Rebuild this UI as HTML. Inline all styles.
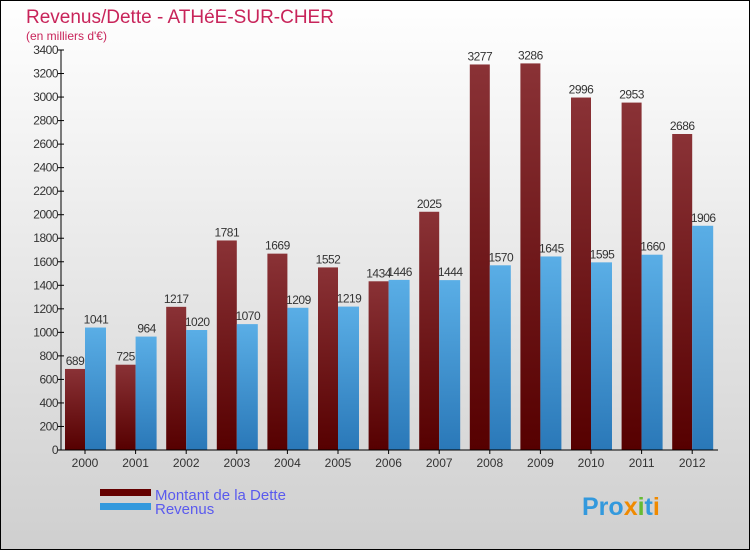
<!DOCTYPE html>
<html><head><meta charset="utf-8"><style>
body{margin:0}
#c{width:750px;height:550px;position:relative;font-family:"Liberation Sans",sans-serif}
</style></head><body>
<div id="c">
<svg id="s" width="750" height="550" xmlns="http://www.w3.org/2000/svg">
<defs>
<linearGradient id="bg" x1="0" y1="0" x2="0" y2="1"><stop offset="0" stop-color="#ffffff"/><stop offset="1" stop-color="#cfcfcf"/></linearGradient>
<linearGradient id="gd" x1="0" y1="0" x2="0" y2="1"><stop offset="0" stop-color="#8a3236"/><stop offset="1" stop-color="#560000"/></linearGradient>
<linearGradient id="gr" x1="0" y1="0" x2="0" y2="1"><stop offset="0" stop-color="#5aaee6"/><stop offset="1" stop-color="#2a78b8"/></linearGradient>
</defs>
<rect x="0.5" y="0.5" width="749" height="549" fill="url(#bg)" stroke="#000"/>
<text x="26" y="23" font-size="19" fill="#c8245a">Revenus/Dette - ATHéE-SUR-CHER</text>
<text x="26" y="40" font-size="12" fill="#c8245a">(en milliers d'€)</text>
<g id="plot"></g>
<rect x="100" y="489" width="51" height="7" fill="#640000"/>
<text x="155" y="500" font-size="15" fill="#5a5aee">Montant de la Dette</text>
<rect x="100" y="503" width="51" height="7" fill="#3399dd"/>
<text x="155" y="514" font-size="15" fill="#5a5aee">Revenus</text>
<text x="582" y="515" font-size="25" font-weight="bold" fill="#3399dd">Pro<tspan fill="#f08a00">x</tspan><tspan fill="#66bb33">i</tspan>t<tspan fill="#f08a00">i</tspan></text>
</svg></div>
<script>
const years=["2000","2001","2002","2003","2004","2005","2006","2007","2008","2009","2010","2011","2012"];
const dette=[689,725,1217,1781,1669,1552,1434,2025,3277,3286,2996,2953,2686];
const revenus=[1041,964,1020,1070,1209,1219,1446,1444,1570,1645,1595,1660,1906];
const yTicks=[0,200,400,600,800,1000,1200,1400,1600,1800,2000,2200,2400,2600,2800,3000,3200,3400];
const NS="http://www.w3.org/2000/svg";
const g=document.getElementById('plot');
const x0=61,y0=450,yMax=3400,h=400,stride=50.6;
const Y=v=>y0-v/yMax*h;
const X=i=>85+i*stride;
function mk(t,a){const e=document.createElementNS(NS,t);for(const k in a)e.setAttribute(k,a[k]);g.appendChild(e);return e;}
yTicks.forEach(v=>{
 const l=mk('line',{x1:x0-3,x2:x0+3,y1:Y(v),y2:Y(v),stroke:'#000'});
 
 
 const t=mk('text',{x:x0-3,y:Y(v)+4,'font-size':12,'text-anchor':'end',fill:'#333','letter-spacing':'-0.5'});
 t.textContent=v;
 
 
});
years.forEach((yr,i)=>{
 const cx=X(i);
 const b1=mk('rect',{x:cx-20,y:Y(dette[i]),width:20,height:y0-Y(dette[i]),fill:'url(#gd)'});
 
 
 const b2=mk('rect',{x:cx,y:Y(revenus[i]),width:21,height:y0-Y(revenus[i]),fill:'url(#gr)'});
 
 
 const t1=mk('text',{x:cx-10,y:Y(dette[i])-4,'font-size':12,'text-anchor':'middle',fill:'#333','letter-spacing':'-0.5'});
 t1.textContent=dette[i];
 
 
 const t2=mk('text',{x:cx+11,y:Y(revenus[i])-4,'font-size':12,'text-anchor':'middle',fill:'#333','letter-spacing':'-0.5'});
 t2.textContent=revenus[i];
 
 
 const tk=mk('line',{x1:cx,x2:cx,y1:y0,y2:y0+4,stroke:'#000'});
 
 
 const xl=mk('text',{x:cx,y:y0+17,'font-size':12,'text-anchor':'middle',fill:'#333'});
 xl.textContent=yr;
 
 
});
const ya=mk('line',{x1:x0,x2:x0,y1:Y(3400),y2:y0,stroke:'#000'});


const xa=mk('line',{x1:x0,x2:718,y1:y0,y2:y0,stroke:'#000'});


</script>
</body></html>
